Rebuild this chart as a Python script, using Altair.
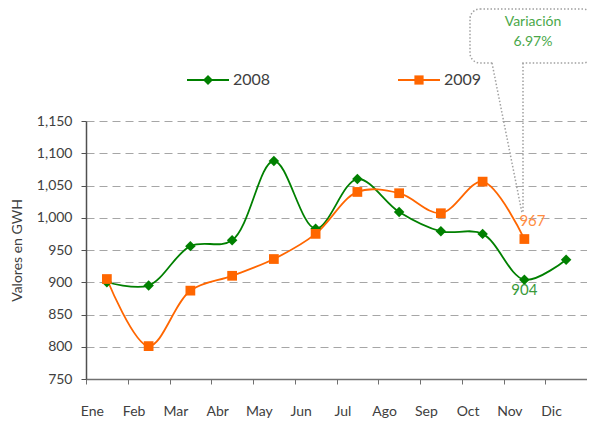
import altair as alt
import pandas as pd

months = ["Ene", "Feb", "Mar", "Abr", "May", "Jun", "Jul", "Ago", "Sep", "Oct", "Nov", "Dic"]
v2008 = [900, 895, 956, 965, 1088, 983, 1060, 1009, 979, 975, 904, 935]
v2009 = [905, 801, 887, 910, 936, 975, 1040, 1038, 1007, 1056, 967, None]
series = ["2008", "2009"]
colors = ["#008000", "#ff6600"]
shapes = ["diamond", "square"]
y_ticks = [750, 800, 850, 900, 950, 1000, 1050, 1100, 1150]
callout_lines = ["Variación", "6.97%"]

rows = []
for s, vals in zip(series, [v2008, v2009]):
    for m, v in zip(months, vals):
        if v is not None:
            rows.append({"mes": m, "serie": s, "valor": v})
df = pd.DataFrame(rows)

FONT = "Lato"
TXT = "#404040"

x = alt.X("mes:N", sort=months,
          scale=alt.Scale(domain=months, paddingInner=0, paddingOuter=0),
          axis=alt.Axis(title=None, labelAngle=0, tickBand="extent", ticks=True, tickSize=5,
                        tickColor="#707070", domainColor="#707070", domainWidth=1.5,
                        labelPadding=20, labelOffset=-15, labelFont=FONT, labelFontSize=14,
                        labelColor=TXT, grid=False))
yscale = alt.Scale(domain=[750, 1150], nice=False, zero=False)
y = alt.Y("valor:Q", scale=yscale,
          axis=alt.Axis(title="Valores en GWH", values=y_ticks, format=",d", tickSize=5,
                        tickColor="#505050", domainColor="#505050", domainWidth=1.5,
                        labelPadding=9, labelFont=FONT, labelFontSize=14, labelColor=TXT,
                        titleFont=FONT, titleFontSize=14, titleColor=TXT, titleFontWeight="normal",
                        titlePadding=12, grid=True, gridDash=[8, 5], gridColor="#a6a6a6",
                        gridWidth=1))
color = alt.Color("serie:N", scale=alt.Scale(domain=series, range=colors), legend=None)

base = alt.Chart(df)

lines = base.mark_line(interpolate="catmull-rom", strokeWidth=1.8).encode(x=x, y=y, color=color)
pts08 = base.transform_filter(alt.datum.serie == "2008").mark_point(
    shape="diamond", filled=True, size=110, opacity=1).encode(x=x, y=y, color=color)
pts09 = base.transform_filter(alt.datum.serie == "2009").mark_point(
    shape="square", filled=True, size=95, opacity=1).encode(x=x, y=y, color=color)

lab08 = base.transform_filter((alt.datum.serie == "2008") & (alt.datum.mes == "Nov")).mark_text(
    dy=10, baseline="middle", align="center", font=FONT, fontSize=15, color="#3a9a3a").encode(
    x=x, y=y, text=alt.Text("valor:Q"))
lab09 = base.transform_filter((alt.datum.serie == "2009") & (alt.datum.mes == "Nov")).mark_text(
    dx=-5, dy=-18, baseline="middle", align="left", font=FONT, fontSize=15, color="#ff8c40").encode(
    x=x, y=y, text=alt.Text("valor:Q"))

# legend drawn as a small set of marks above the plot
legend_layers = []
leg_start = [101, 312]
leg_y = -41
for i, s in enumerate(series):
    item = alt.Chart(pd.DataFrame({"serie": [s]}))
    legend_layers.append(item.mark_rule(color=colors[i], strokeWidth=2).encode(
        x=alt.value(leg_start[i]), x2=alt.value(leg_start[i] + 42),
        y=alt.value(leg_y), y2=alt.value(leg_y)))
    legend_layers.append(item.mark_point(shape=shapes[i], filled=True, opacity=1, color=colors[i],
                                         size=100 if i == 0 else 85).encode(
        x=alt.value(leg_start[i] + 21), y=alt.value(leg_y)))
    legend_layers.append(item.mark_text(align="left", baseline="middle", font=FONT, fontSize=16,
                                        color=TXT).encode(
        x=alt.value(leg_start[i] + 46), y=alt.value(leg_y), text="serie:N"))

one = alt.Chart(pd.DataFrame({"k": [0]}))
dot = dict(stroke="#a0a0a0", strokeDash=[1.5, 2], strokeWidth=1.5)
box = one.mark_rect(fill="white", cornerRadius=10, **dot).encode(
    x=alt.value(384), x2=alt.value(507), y=alt.value(-112), y2=alt.value(-58))
gap = one.mark_rule(stroke="white", strokeWidth=3).encode(
    x=alt.value(407), x2=alt.value(436), y=alt.value(-58), y2=alt.value(-58))
tail1 = one.mark_rule(**dot).encode(
    x=alt.value(406), x2=alt.value(436), y=alt.value(-58), y2=alt.value(92))
tail2 = one.mark_rule(**dot).encode(
    x=alt.value(437), x2=alt.value(437), y=alt.value(-58), y2=alt.value(92))
ctext1 = one.mark_text(text=callout_lines[0], font=FONT, fontSize=14, color="#4aa84a",
                       align="center", baseline="middle").encode(x=alt.value(447), y=alt.value(-99))
ctext2 = one.mark_text(text=callout_lines[1], font=FONT, fontSize=14, color="#4aa84a",
                       align="center", baseline="middle").encode(x=alt.value(447), y=alt.value(-79))

chart = alt.layer(
    box, gap, tail1, tail2, ctext1, ctext2, lines, pts08, pts09, lab08, lab09, *legend_layers
).properties(
    width=501, height=258,
    autosize=alt.AutoSizeParams(type="none"),
    padding={"left": 78, "top": 113, "right": 0, "bottom": 41},
    background="white",
).configure_view(stroke=None)

chart.save("out.html", embed_options={"renderer": "svg", "actions": False})
